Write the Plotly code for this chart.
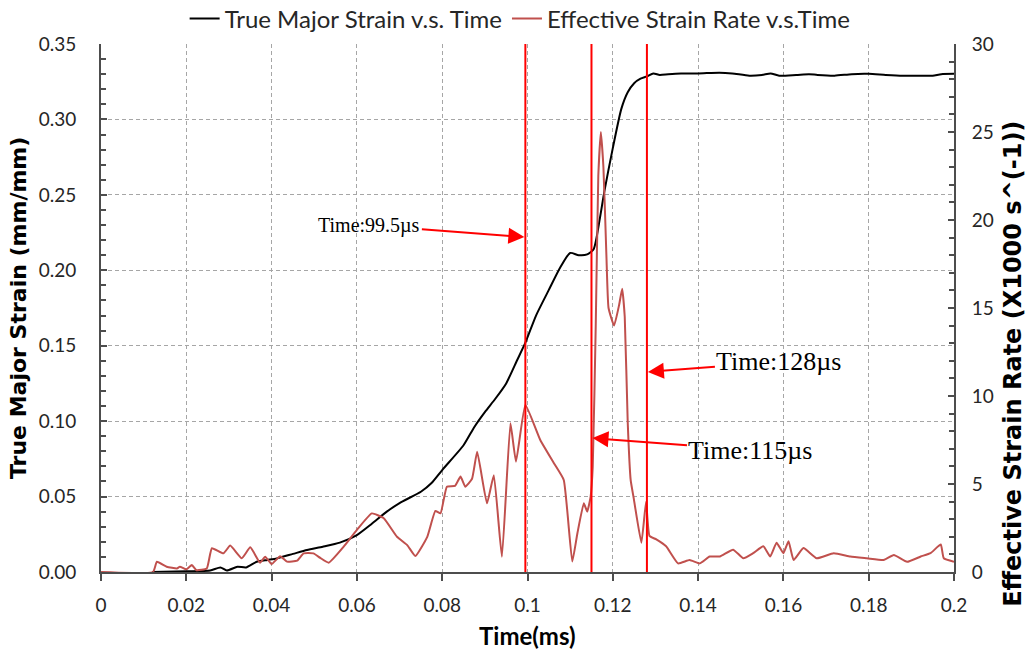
import plotly.graph_objects as go

# ---------------- data ----------------
time_strain = [0.012, 0.02, 0.0256, 0.028, 0.0295, 0.032, 0.034, 0.0365, 0.039, 0.0412,
               0.045, 0.0483, 0.052, 0.056, 0.06, 0.0635, 0.067, 0.07, 0.075, 0.0775,
               0.08, 0.085, 0.0875, 0.09, 0.0925, 0.095, 0.0975, 0.0995, 0.102, 0.105,
               0.1077, 0.11, 0.112, 0.114, 0.1155, 0.117, 0.118, 0.12, 0.122, 0.1235,
               0.125, 0.1265, 0.128, 0.1295, 0.131, 0.133, 0.136, 0.14, 0.145, 0.148,
               0.152, 0.155, 0.157, 0.159, 0.163, 0.166, 0.168, 0.172, 0.176, 0.18,
               0.184, 0.188, 0.192, 0.195, 0.197, 0.2]
strain = [0.0, 0.0005, 0.001, 0.003, 0.001, 0.0035, 0.003, 0.0068, 0.008, 0.009,
          0.012, 0.0146, 0.0168, 0.0195, 0.0245, 0.032, 0.040, 0.0457, 0.0532, 0.059,
          0.0676, 0.084, 0.096, 0.106, 0.115, 0.125, 0.140, 0.152, 0.170, 0.187,
          0.202, 0.2115, 0.210, 0.2105, 0.214, 0.235, 0.252, 0.281, 0.307, 0.318,
          0.324, 0.327, 0.3285, 0.3305, 0.3295, 0.330, 0.3305, 0.3305, 0.331, 0.3305,
          0.329, 0.3295, 0.3305, 0.329, 0.3295, 0.330, 0.3295, 0.329, 0.330, 0.3302,
          0.3295, 0.329, 0.329, 0.329, 0.330, 0.3302]

time_rate = [0.0, 0.0122, 0.0131, 0.0154, 0.0178, 0.0185, 0.020, 0.0213, 0.0224, 0.0248,
             0.026, 0.0287, 0.0303, 0.033, 0.035, 0.0373, 0.0385, 0.040, 0.042, 0.0436,
             0.046, 0.0475, 0.0498, 0.0514, 0.0534, 0.0569, 0.060, 0.0635, 0.0663, 0.0694,
             0.0718, 0.0737, 0.0765, 0.0784, 0.0796, 0.0811, 0.083, 0.0843, 0.0854, 0.087,
             0.0882, 0.0905, 0.0921, 0.094, 0.096, 0.0973, 0.0995, 0.103, 0.1062, 0.1085,
             0.1105, 0.1117, 0.1132, 0.114, 0.1148, 0.1153, 0.116, 0.1166, 0.1172, 0.1178,
             0.1185, 0.119, 0.1203, 0.1215, 0.1222, 0.1228, 0.1235, 0.1242, 0.1249, 0.1267,
             0.1278, 0.1286, 0.1302, 0.1325, 0.1353, 0.138, 0.1404, 0.1427, 0.1451, 0.1482,
             0.1506, 0.1529, 0.1553, 0.1569, 0.1584, 0.16, 0.1612, 0.1624, 0.1647, 0.1678,
             0.1718, 0.1757, 0.1796, 0.1835, 0.1859, 0.189, 0.1922, 0.1945, 0.1969, 0.1976,
             0.2]
rate = [0.0, 0.0, 0.58, 0.3, 0.2, 0.3, 0.15, 0.4, 0.1, 0.2,
        1.35, 1.06, 1.5, 0.78, 1.4, 0.53, 0.87, 0.45, 0.9, 0.59,
        0.65, 1.06, 1.06, 0.8, 0.53, 1.44, 2.39, 3.33, 3.05, 2.0,
        1.53, 0.91, 2.0, 3.47, 3.33, 4.85, 4.89, 5.42, 4.85, 5.3,
        6.83, 3.9, 5.5, 0.87, 8.45, 6.27, 9.49, 7.5, 6.18, 5.23,
        0.59, 2.2, 3.9, 3.43, 4.28, 6.0, 14.0, 22.5, 25.0, 23.0,
        18.0, 15.0, 14.0, 15.2, 16.1, 14.5, 8.5, 5.2, 4.2, 1.66,
        3.99, 2.05, 1.85, 1.46, 0.49, 0.68, 0.49, 0.88, 0.88, 1.27,
        0.78, 1.07, 1.46, 0.88, 1.66, 1.07, 1.75, 0.68, 1.36, 0.78,
        1.07, 0.88, 0.78, 0.68, 0.97, 0.58, 0.88, 1.07, 1.56, 0.78,
        0.58]

marker_times = [0.0995, 0.115, 0.128]
marker_labels = ["Time:99.5µs", "Time:115µs", "Time:128µs"]
marker_arrow_strain = [0.222, 0.0888, 0.1326]

x_ticks = [0, 0.02, 0.04, 0.06, 0.08, 0.1, 0.12, 0.14, 0.16, 0.18, 0.2]
x_tick_text = ["0", "0.02", "0.04", "0.06", "0.08", "0.1", "0.12", "0.14", "0.16", "0.18", "0.2"]
left_ticks = [0, 0.05, 0.1, 0.15, 0.2, 0.25, 0.3, 0.35]
left_tick_text = ["0.00", "0.05", "0.10", "0.15", "0.20", "0.25", "0.30", "0.35"]
right_ticks = [0, 5, 10, 15, 20, 25, 30]

# ---------------- styling ----------------
UI_FONT = "Lato, sans-serif"
TITLE_FONT = "'DejaVu Sans', sans-serif"
SERIF = "'Liberation Serif', 'Times New Roman', serif"
AXIS_COL = "#4d4d4d"
GRID_COL = "#a6a6a6"
RATE_COL = "#c0504d"
TXT_COL = "#262626"
TICK_SIZE = 19

fig = go.Figure()
fig.add_trace(go.Scatter(x=time_strain, y=strain, mode="lines",
                         name="True Major Strain v.s. Time",
                         line=dict(color="black", width=2, shape="spline", smoothing=0.6),
                         yaxis="y"))
fig.add_trace(go.Scatter(x=time_rate, y=rate, mode="lines",
                         name="Effective Strain Rate v.s.Time",
                         line=dict(color=RATE_COL, width=2, shape="spline", smoothing=0.4),
                         yaxis="y2"))

for t in marker_times:
    fig.add_shape(type="line", xref="x", yref="paper", x0=t, x1=t, y0=0, y1=1,
                  line=dict(color="#ff0000", width=2), layer="above")

offsets = [(-156, -12, 20), (159, 12, 26), (132, -10, 26)]
for t, lab, ys, (ax, ay, fs) in zip(marker_times, marker_labels, marker_arrow_strain, offsets):
    fig.add_annotation(x=t, y=ys, xref="x", yref="y", text=lab, showarrow=True,
                       ax=ax, ay=ay, axref="pixel", ayref="pixel",
                       arrowhead=2, arrowsize=1.6, arrowwidth=2, arrowcolor="#ff0000",
                       standoff=1,
                       font=dict(family=SERIF, size=fs, color="black"))

# axis titles
fig.add_annotation(text="<b>True Major Strain (mm/mm)</b>", xref="paper", yref="paper",
                   x=-0.0973, y=0.5, xanchor="center", yanchor="middle",
                   showarrow=False, textangle=-90,
                   font=dict(family=TITLE_FONT, size=22, color="black"))
fig.add_annotation(text="<b>Effective Strain Rate (X1000 s^(-1))</b>", xref="paper", yref="paper",
                   x=1.0696, y=0.395, xanchor="center", yanchor="middle",
                   showarrow=False, textangle=-90,
                   font=dict(family=TITLE_FONT, size=24, color="black"))
fig.add_annotation(text="<b>Time(ms)</b>", xref="paper", yref="paper",
                   x=0.5, y=-0.121, xanchor="center", yanchor="middle", showarrow=False,
                   font=dict(family=UI_FONT, size=24, color="black"))

fig.update_layout(
    width=1032, height=653,
    margin=dict(l=101, r=78, t=44, b=81, autoexpand=False),
    paper_bgcolor="white", plot_bgcolor="white",
    font=dict(family=UI_FONT, size=TICK_SIZE, color=TXT_COL),
    showlegend=True,
    legend=dict(orientation="h", xref="container", yref="container",
                x=0.504, xanchor="center", y=0.971, yanchor="middle",
                font=dict(family=UI_FONT, size=24, color=TXT_COL),
                itemwidth=30, bgcolor="rgba(0,0,0,0)"),
    xaxis=dict(range=[0, 0.2], tickvals=x_ticks, ticktext=x_tick_text,
               ticks="outside", ticklen=7, tickcolor=AXIS_COL, tickwidth=1.5,
               showline=True, linecolor=AXIS_COL, linewidth=2,
               showgrid=True, gridcolor=GRID_COL, griddash="4px,3px", gridwidth=1,
               zeroline=False, ticklabelstandoff=8,
               tickfont=dict(family=UI_FONT, size=TICK_SIZE, color=TXT_COL)),
    yaxis=dict(range=[0, 0.35], tickvals=left_ticks, ticktext=left_tick_text,
               ticks="inside", ticklen=6, tickcolor=AXIS_COL, tickwidth=1.5,
               minor=dict(dtick=0.01, ticks="inside", ticklen=5, tickcolor=AXIS_COL, showgrid=False),
               showline=True, linecolor=AXIS_COL, linewidth=2,
               showgrid=True, gridcolor=GRID_COL, griddash="4px,3px", gridwidth=1,
               zeroline=False, ticklabelstandoff=19,
               tickfont=dict(family=UI_FONT, size=TICK_SIZE, color=TXT_COL)),
    yaxis2=dict(range=[0, 30], tickvals=right_ticks, overlaying="y", side="right",
                ticks="inside", ticklen=6, tickcolor=AXIS_COL, tickwidth=1.5,
                minor=dict(dtick=1, ticks="inside", ticklen=5, tickcolor=AXIS_COL, showgrid=False),
                showline=True, linecolor=AXIS_COL, linewidth=2,
                showgrid=False, zeroline=False, ticklabelstandoff=12,
                tickfont=dict(family=UI_FONT, size=TICK_SIZE, color=TXT_COL)),
)

fig.write_html("out.html", config={"displayModeBar": False},
               post_script="document.body.style.margin='0';")
